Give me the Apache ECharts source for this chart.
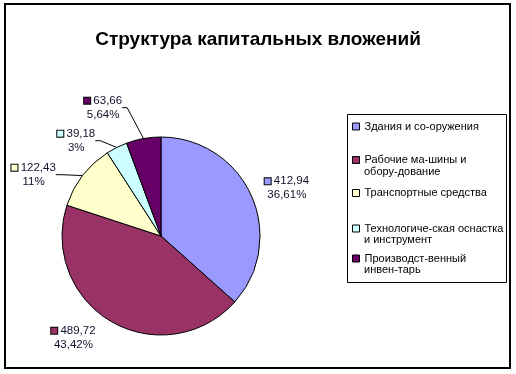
<!DOCTYPE html>
<html><head><meta charset="utf-8">
<script src="https://cdn.jsdelivr.net/npm/echarts@6/dist/echarts.min.js"></script>
<style>html,body{margin:0;padding:0;background:#fff}#c{width:516px;height:374px}</style>
</head><body><div id="c"></div>
<script>
const titleText = 'Структура капитальных вложений';
const categories = ['Здания и со-оружения', 'Рабочие ма-шины и\nобору-дование', 'Транспортные средства', 'Технологиче-ская оснастка\nи инструмент', 'Производст-венный\nинвен-тарь'];
const values = [412.94, 489.72, 122.43, 39.18, 63.66];
const pctLabels = ['36,61%', '43,42%', '11%', '3%', '5,64%'];
const colors = ['#9999FF', '#993366', '#FFFFCC', '#CCFFFF', '#660066'];

const FONT = 'Arial, "Liberation Sans", sans-serif';
const txtColor = '#10102a';

// layout tuning (label nudges, legend rows)
const labelShift = [[-3, -4], [-2, 9], [-5, -12], [14, -18], [-10, -23]];
const showLeader = [false, false, true, true, true];
const legendIconCenters = [126.5, 160, 193, 228.5, 258.5];
const legendLineGap = 12.5;

const data = categories.map((name, i) => ({
  name: name,
  value: values[i],
  itemStyle: { color: colors[i] },
  labelLine: { show: showLeader[i] },
  label: {
    formatter: '{sq|}{v| ' + values[i].toFixed(2).replace('.', ',') + '}\n{p|' + pctLabels[i] + '}',
    rich: {
      sq: { width: 6, height: 6, backgroundColor: colors[i], borderColor: '#000', borderWidth: 1 },
      v: { fontFamily: FONT, fontSize: 11.5, color: txtColor, lineHeight: 14 },
      p: { fontFamily: FONT, fontSize: 11.5, color: txtColor, lineHeight: 14, align: 'center' }
    }
  }
}));

const legends = categories.map((name, i) => ({
  data: [name],
  left: 352,
  top: legendIconCenters[i] - 3.5 - 3,
  padding: 0,
  itemWidth: 7,
  itemHeight: 7,
  itemGap: 0,
  selectedMode: false,
  icon: 'rect',
  formatter: (n) => n.split('\n')[0],
  itemStyle: { borderColor: '#000', borderWidth: 1 },
  textStyle: { fontFamily: FONT, fontSize: 11, color: '#000', lineHeight: 13 }
}));

const secondLines = [];
categories.forEach((name, i) => {
  const parts = name.split('\n');
  if (parts.length > 1) {
    secondLines.push({
      type: 'text', left: 364, top: legendIconCenters[i] + legendLineGap - 6.5,
      style: { text: parts[1], font: '11px ' + FONT, fill: '#000' }, z: 100
    });
  }
});

const chart = echarts.init(document.getElementById('c'), null, { renderer: 'canvas' });
chart.setOption({
  animation: false,
  backgroundColor: '#fff',
  title: {
    text: titleText, left: 'center', top: 25,
    textStyle: { fontFamily: FONT, fontSize: 19, fontWeight: 'bold', color: '#000' }
  },
  legend: legends,
  graphic: [
    { type: 'rect', shape: { x: 5, y: 4, width: 505, height: 364 }, style: { fill: 'none', stroke: '#000', lineWidth: 2 }, z: 100 },
    { type: 'rect', shape: { x: 347.5, y: 114.5, width: 159, height: 168 }, style: { fill: 'none', stroke: '#000', lineWidth: 1 }, z: 100 }
  ].concat(secondLines),
  series: [{
    type: 'pie',
    center: [161, 236],
    radius: 99,
    startAngle: 90,
    clockwise: true,
    data: data,
    itemStyle: { borderColor: '#000', borderWidth: 1 },
    label: { show: true, position: 'outside' },
    labelLine: { show: true, length: 8, length2: 5, lineStyle: { color: '#000', width: 1 } },
    labelLayout: (p) => {
      const r = p.labelRect, s = labelShift[p.dataIndex];
      const ax = p.align === 'right' ? r.x + r.width : p.align === 'center' ? r.x + r.width / 2 : r.x;
      const ay = p.verticalAlign === 'middle' ? r.y + r.height / 2 : p.verticalAlign === 'bottom' ? r.y + r.height : r.y;
      return { x: ax + s[0], y: ay + s[1] };
    },
    emphasis: { disabled: true }
  }]
});
</script></body></html>
